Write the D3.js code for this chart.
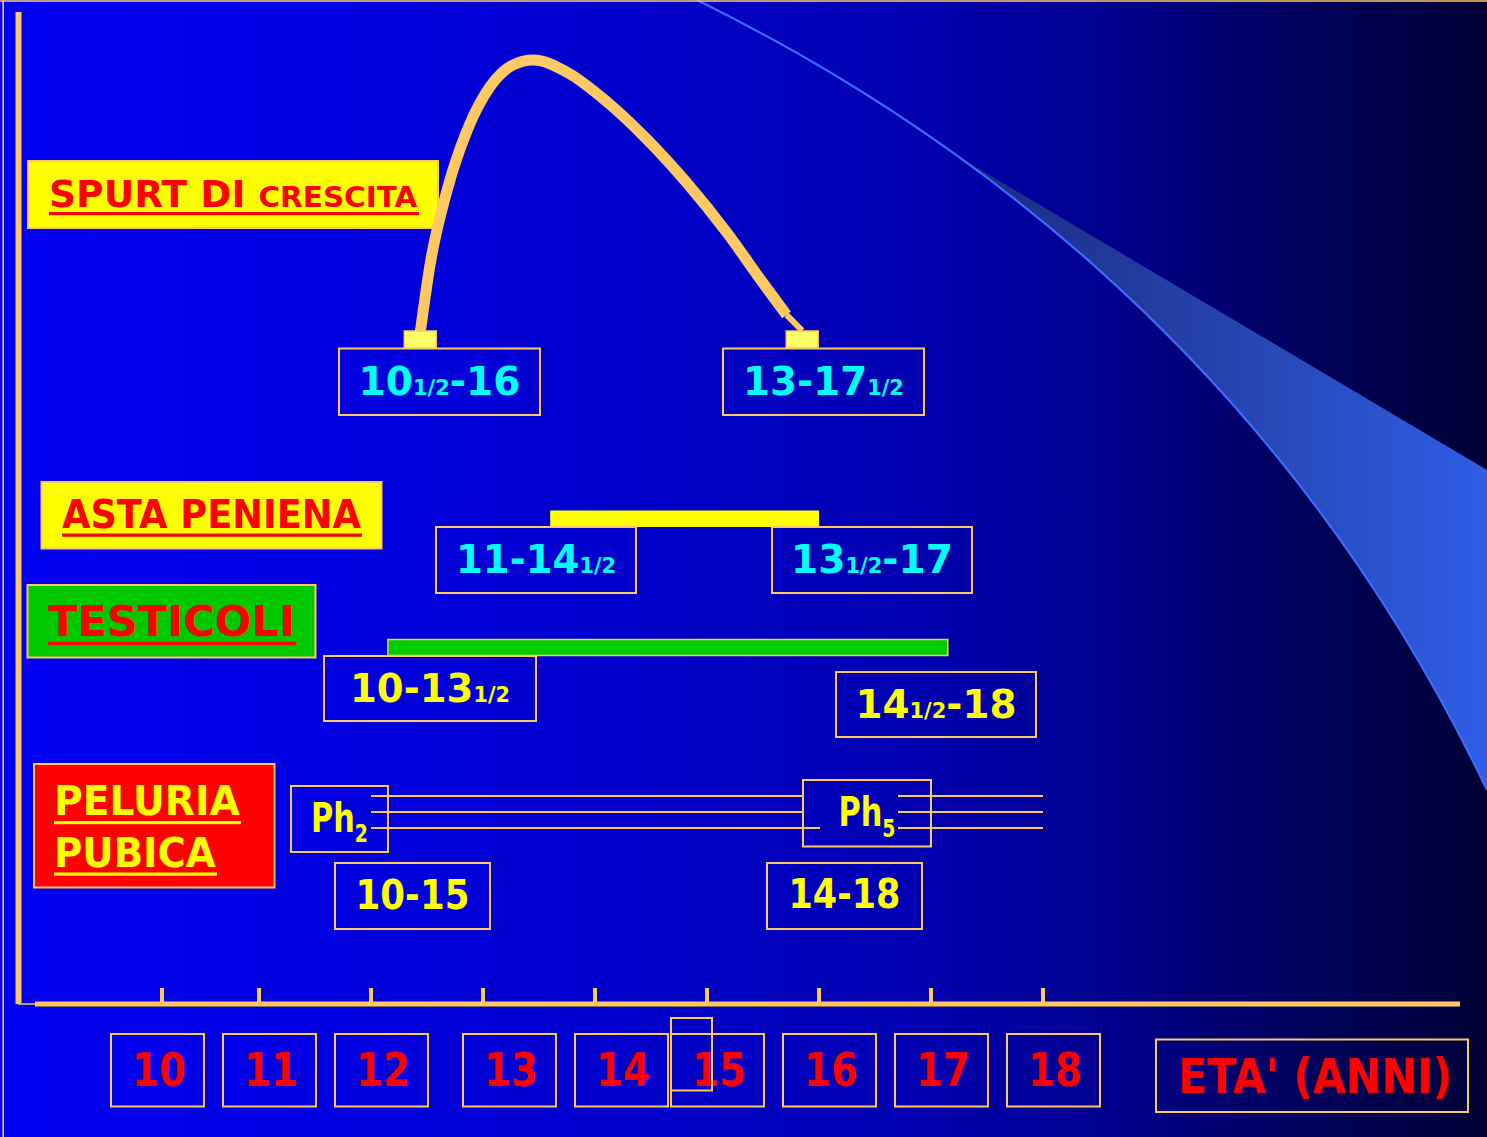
<!DOCTYPE html>
<html>
<head>
<meta charset="utf-8">
<script src="https://cdn.jsdelivr.net/npm/d3@7"></script>
<style>
  html, body { margin: 0; padding: 0; background: #000038; overflow: hidden; }
  svg text { font-family: "DejaVu Sans", "Noto Sans", sans-serif; font-weight: bold; }
</style>
</head>
<body>
<svg id="chart" width="1487" height="1137"></svg>
<script>
// ---- Age axis (years) ----
const ages = [10, 11, 12, 13, 14, 15, 16, 17, 18];
const ageLabels = ["10", "11", "12", "13", "14", "15", "16", "17", "18"];
const axisTitle = "ETA' (ANNI)";

// ---- Growth spurt: velocity curve (age, relative velocity 0–10) ----
const spurtAges   = [12.44, 12.53, 12.68, 12.86, 13.06, 13.27, 13.45, 13.75, 14.11, 14.46, 14.82, 15.18, 15.50, 15.71];
const spurtValues = [0, 2.54, 5.22, 7.43, 9.0, 9.82, 10, 9.55, 8.45, 7.1, 5.48, 3.64, 1.8, 0.63];
const spurtTailAges   = [15.71, 15.85];
const spurtTailValues = [0.63, 0.05];
const spurtMarkers = [12.44, 15.85];
const spurtLabels = ["10½-16", "13-17½"];

// ---- Penis growth ----
const astaRange = [13.6, 16.0];
const astaLabels = ["11-14½", "13½-17"];

// ---- Testicular growth ----
const testRange = [12.15, 17.15];
const testLabels = ["10-13½", "14½-18"];

// ---- Pubic hair ----
const pubicRange = [12, 18];
const pubicStages = [["Ph", "2"], ["Ph", "5"]];
const pubicLabels = ["10-15", "14-18"];

// ---- Layout ----
const W = 1487, H = 1137;
const ORANGE = "#ffc862";
const svg = d3.select("#chart");
const defs = svg.append("defs");

const x = d3.scaleLinear().domain([10, 11, 18]).range([162, 259, 1043]);
const ySpurt = d3.scaleLinear().domain([0, 10]).range([332, 60]);

// background gradient
const bg = defs.append("linearGradient").attr("id", "bg").attr("x1", 0).attr("x2", 1).attr("y1", 0).attr("y2", 0);
[[0, "#0000f2"], [0.22, "#0000e2"], [0.42, "#0000cc"], [0.62, "#0000b0"], [0.74, "#000090"], [0.86, "#000062"], [1, "#000036"]]
  .forEach(([o, c]) => bg.append("stop").attr("offset", o).attr("stop-color", c));
svg.append("rect").attr("width", W).attr("height", H).attr("fill", "url(#bg)");

// decorative swoosh on the right
const P = [[697, 0], [920, 110], [1270, 335], [1487, 790]];
function lerp(a, b, t) { return [a[0] + (b[0] - a[0]) * t, a[1] + (b[1] - a[1]) * t]; }
const tSplit = 0.34;
const a1 = lerp(P[0], P[1], tSplit), a2 = lerp(P[1], P[2], tSplit), a3 = lerp(P[2], P[3], tSplit);
const b1 = lerp(a1, a2, tSplit), b2 = lerp(a2, a3, tSplit);
const tip = lerp(b1, b2, tSplit);
const wedgeGrad = defs.append("linearGradient").attr("id", "wedge").attr("gradientUnits", "userSpaceOnUse")
  .attr("x1", tip[0]).attr("y1", 0).attr("x2", W).attr("y2", 0);
[[0, "#1b2a80"], [0.5, "#2543ad"], [1, "#305ee8"]]
  .forEach(([o, c]) => wedgeGrad.append("stop").attr("offset", o).attr("stop-color", c));
svg.append("path")
  .attr("d", `M${tip}C${b2} ${a3} ${P[3]}L${W},470Z`)
  .attr("fill", "url(#wedge)");
svg.append("path")
  .attr("d", `M${P[0]}C${P[1]} ${P[2]} ${P[3]}`)
  .attr("fill", "none").attr("stroke", "#3a6cff").attr("stroke-width", 2.2);

// slide frame (top & left)
svg.append("line").attr("x1", 0).attr("x2", W).attr("y1", 1).attr("y2", 1).attr("stroke", ORANGE).attr("stroke-width", 1.6);
svg.append("line").attr("x1", 3.2).attr("x2", 3.2).attr("y1", 0).attr("y2", H).attr("stroke", ORANGE).attr("stroke-width", 1.6);

// ---- helpers ----
function fitX(sel, pos, targetW, anchor) {
  sel.each(function () {
    const bb = this.getBBox();
    const s = targetW / bb.width;
    const left = anchor === "middle" ? pos - targetW / 2 : pos;
    d3.select(this).attr("transform", `translate(${left - bb.x * s},0) scale(${s},1)`);
  });
}
function fracText(g, str, base, big, small, fill) {
  const t = g.append("text").attr("x", 0).attr("y", base).attr("fill", fill).attr("font-size", big);
  str.split(/(½)/).filter(s => s.length).forEach(part => {
    if (part === "½") t.append("tspan").attr("font-size", small).text("1/2");
    else t.append("tspan").attr("font-size", big).text(part);
  });
  return t;
}
function labelBox(g, box, str, fill, big, small) {
  g.append("rect").attr("x", box.cx - box.w / 2).attr("y", box.y).attr("width", box.w).attr("height", box.h)
    .attr("fill", "none").attr("stroke", ORANGE).attr("stroke-width", 2);
  const t = fracText(g, str, box.base, big, small, fill);
  fitX(t, box.cx, box.tw, "middle");
}
function titleBox(g, r, lines, bgFill, txtFill) {
  g.append("rect").attr("x", r.x).attr("y", r.y).attr("width", r.w).attr("height", r.h)
    .attr("fill", bgFill).attr("stroke", ORANGE).attr("stroke-width", 2);
  lines.forEach(l => {
    const t = g.append("text").attr("x", 0).attr("y", l.base).attr("fill", txtFill);
    l.parts.forEach(p => t.append("tspan").attr("font-size", p[1]).text(p[0]));
    fitX(t, l.x0, l.x1 - l.x0, "start");
    g.append("rect").attr("x", l.x0).attr("y", l.ul - 1.5).attr("width", l.x1 - l.x0 + 1).attr("height", 3.2).attr("fill", txtFill);
  });
}

// ---- axes ----
const axis = svg.append("g");
axis.append("line").attr("x1", 18.5).attr("x2", 18.5).attr("y1", 12).attr("y2", 1004)
  .attr("stroke", ORANGE).attr("stroke-width", 6);
axis.append("line").attr("x1", 18).attr("x2", 36).attr("y1", 1004).attr("y2", 1004)
  .attr("stroke", ORANGE).attr("stroke-width", 1.5);
axis.append("line").attr("x1", 35).attr("x2", 1460).attr("y1", 1006).attr("y2", 1006)
  .attr("stroke", "#101060").attr("stroke-width", 2);
axis.append("line").attr("x1", 35).attr("x2", 1460).attr("y1", 1004).attr("y2", 1004)
  .attr("stroke", ORANGE).attr("stroke-width", 5);
axis.selectAll("line.tick").data(ages).join("line").attr("class", "tick")
  .attr("x1", d => x(d)).attr("x2", d => x(d)).attr("y1", 988).attr("y2", 1003)
  .attr("stroke", ORANGE).attr("stroke-width", 4);

// tick label boxes
const labelShift = [-4.5, 10.5, 10.5, 26.5, 26.5, 10.5, 10.5, 10.5, 10.5];
const tickG = svg.append("g");
ages.forEach((a, i) => {
  const cx = x(a) + labelShift[i];
  tickG.append("rect").attr("x", cx - 46.5).attr("y", 1034).attr("width", 93).attr("height", 72.5)
    .attr("fill", "none").attr("stroke", ORANGE).attr("stroke-width", 2);
  const t = tickG.append("text").attr("x", 0).attr("y", 1086).attr("font-size", 46).attr("fill", "#ff0000").text(ageLabels[i]);
  fitX(t, cx + 1.5, 54, "middle");
});
tickG.append("rect").attr("x", 671).attr("y", 1018).attr("width", 41).attr("height", 72.5)
  .attr("fill", "none").attr("stroke", ORANGE).attr("stroke-width", 2);
tickG.append("rect").attr("x", 1156).attr("y", 1039.5).attr("width", 312).attr("height", 72.5)
  .attr("fill", "none").attr("stroke", ORANGE).attr("stroke-width", 2);
{
  const t = tickG.append("text").attr("x", 0).attr("y", 1093).attr("font-size", 48).attr("fill", "#ff0000").text(axisTitle);
  fitX(t, 1178, 274, "start");
}

// ---- row titles ----
const titles = svg.append("g");
titleBox(titles, { x: 28, y: 161, w: 410, h: 67 },
  [{ parts: [["SPURT DI ", 37], ["CRESCITA", 29]], base: 207, x0: 49, x1: 418, ul: 213.5 }], "#ffff00", "#ff0000");
titleBox(titles, { x: 41.5, y: 482, w: 340, h: 66.5 },
  [{ parts: [["ASTA PENIENA", 39]], base: 528, x0: 62, x1: 361, ul: 535 }], "#ffff00", "#ff0000");
titleBox(titles, { x: 27.5, y: 585, w: 288, h: 72.5 },
  [{ parts: [["TESTICOLI", 42]], base: 636, x0: 48, x1: 295, ul: 643.5 }], "#00c800", "#ff0000");
titleBox(titles, { x: 34, y: 764, w: 240.5, h: 123.5 },
  [{ parts: [["PELURIA", 41]], base: 815, x0: 54, x1: 240, ul: 822.5 },
   { parts: [["PUBICA", 41]], base: 867, x0: 54, x1: 216, ul: 874 }], "#ff0000", "#ffff00");

// ---- pubic hair stage lines ----
const pub = svg.append("g");
const ph5Box = { cx: 867, y: 780, w: 128, h: 66.5, tw: 57, base: 826 };
const lineYs = [796, 812, 828];
lineYs.forEach((yy, i) => {
  const gapStart = ph5Box.cx - ph5Box.w / 2 + (i === 2 ? 17 : 0);
  const gapEnd = ph5Box.cx - ph5Box.w / 2 + 95;
  pub.append("line").attr("x1", x(pubicRange[0])).attr("x2", gapStart).attr("y1", yy).attr("y2", yy)
    .attr("stroke", ORANGE).attr("stroke-width", 2);
  pub.append("line").attr("x1", gapEnd).attr("x2", x(pubicRange[1])).attr("y1", yy).attr("y2", yy)
    .attr("stroke", ORANGE).attr("stroke-width", 2);
});
const phBoxes = [{ cx: 339.5, y: 786, w: 97, h: 66, tw: 57, base: 832, sub: 10 }, Object.assign({ sub: 11 }, ph5Box)];
pubicStages.forEach((st, i) => {
  const b = phBoxes[i];
  pub.append("rect").attr("x", b.cx - b.w / 2).attr("y", b.y).attr("width", b.w).attr("height", b.h)
    .attr("fill", "none").attr("stroke", ORANGE).attr("stroke-width", 2);
  const t = pub.append("text").attr("x", 0).attr("y", b.base).attr("fill", "#ffff00").attr("font-size", 40);
  t.append("tspan").text(st[0]);
  t.append("tspan").attr("font-size", 25).attr("dy", b.sub).text(st[1]);
  fitX(t, b.cx, b.tw, "middle");
});
const pubBoxes = [{ cx: 412.5, y: 863, w: 155, h: 66, tw: 114, base: 909 },
                  { cx: 844.5, y: 863, w: 155, h: 66, tw: 112, base: 908 }];
pubicLabels.forEach((s, i) => labelBox(pub, pubBoxes[i], s, "#ffff00", 40, 21));

// ---- testicular bar ----
const test = svg.append("g");
test.append("rect").attr("x", x(testRange[0])).attr("y", 639.5)
  .attr("width", x(testRange[1]) - x(testRange[0])).attr("height", 16)
  .attr("fill", "#00cc00").attr("stroke", ORANGE).attr("stroke-width", 1.5);
const testBoxes = [{ cx: 430, y: 656, w: 212, h: 65, tw: 160, base: 702 },
                   { cx: 936, y: 672, w: 200, h: 65, tw: 161, base: 718 }];
testLabels.forEach((s, i) => labelBox(test, testBoxes[i], s, "#ffff00", 39, 21));

// ---- penis bar ----
const asta = svg.append("g");
asta.append("rect").attr("x", x(astaRange[0])).attr("y", 510.5)
  .attr("width", x(astaRange[1]) - x(astaRange[0])).attr("height", 16.5)
  .attr("fill", "#ffff00");
const astaBoxes = [{ cx: 536, y: 527, w: 200, h: 66, tw: 160, base: 573 },
                   { cx: 872, y: 527, w: 200, h: 66, tw: 162, base: 573 }];
astaLabels.forEach((s, i) => labelBox(asta, astaBoxes[i], s, "#00ffff", 39, 21));

// ---- growth spurt curve ----
const spurt = svg.append("g");
const spurtBoxes = [{ cx: 439.5, y: 348.5, w: 201, h: 66.5, tw: 162, base: 395 },
                    { cx: 823.5, y: 348.5, w: 201, h: 66.5, tw: 161, base: 395 }];
spurtLabels.forEach((s, i) => labelBox(spurt, spurtBoxes[i], s, "#00ffff", 39, 21));
const line = d3.line().x(d => x(d[0])).y(d => ySpurt(d[1])).curve(d3.curveMonotoneX);
spurt.append("path").datum(d3.zip(spurtAges, spurtValues)).attr("d", line)
  .attr("fill", "none").attr("stroke", ORANGE).attr("stroke-width", 11);
spurt.append("path").datum(d3.zip(spurtTailAges, spurtTailValues)).attr("d", d3.line().x(d => x(d[0])).y(d => ySpurt(d[1])))
  .attr("fill", "none").attr("stroke", ORANGE).attr("stroke-width", 6);
spurt.selectAll("rect.marker").data(spurtMarkers).join("rect").attr("class", "marker")
  .attr("x", d => x(d) - 16).attr("y", ySpurt(0) - 1).attr("width", 32).attr("height", 17)
  .attr("fill", "#ffff66").attr("stroke", ORANGE).attr("stroke-width", 1.5);
</script>
</body>
</html>
